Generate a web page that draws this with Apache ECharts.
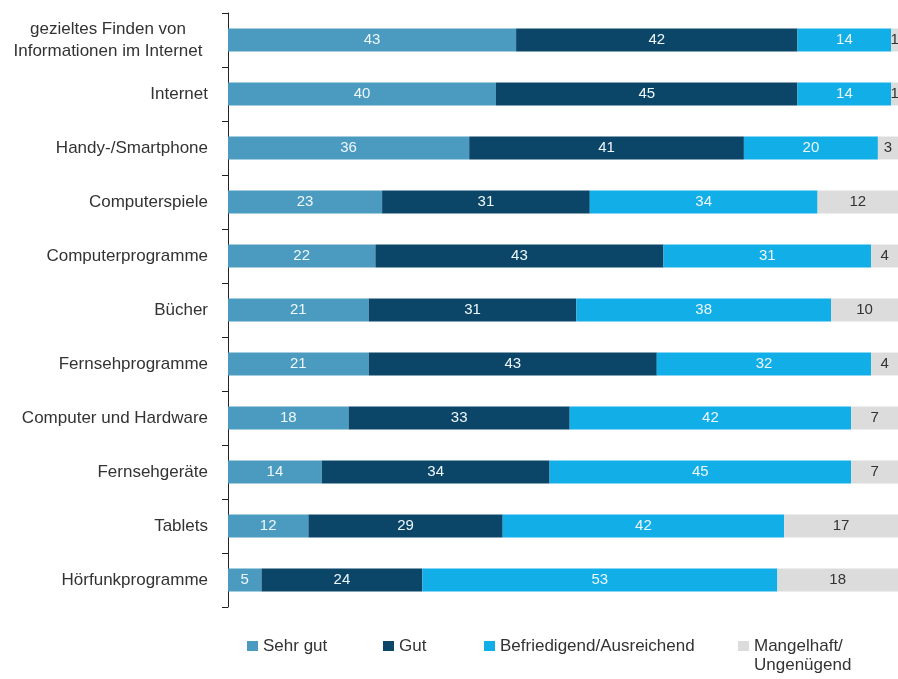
<!DOCTYPE html>
<html>
<head>
<meta charset="utf-8">
<script src="https://cdn.jsdelivr.net/npm/echarts@6/dist/echarts.min.js"></script>
<style>
  html, body { margin: 0; padding: 0; background: #fff; }
  #chart { width: 898px; height: 679px; }
</style>
</head>
<body>
<div id="chart"></div>
<script>
// Media categories, top to bottom
const categories = [
  'gezieltes Finden von\nInformationen im Internet',
  'Internet',
  'Handy-/Smartphone',
  'Computerspiele',
  'Computerprogramme',
  'Bücher',
  'Fernsehprogramme',
  'Computer und Hardware',
  'Fernsehgeräte',
  'Tablets',
  'Hörfunkprogramme'
];

// Shares per rating (percent)
const sehrGut      = [43, 40, 36, 23, 22, 21, 21, 18, 14, 12, 5];
const gut          = [42, 45, 41, 31, 43, 31, 43, 33, 34, 29, 24];
const befriedigend = [14, 14, 20, 34, 31, 38, 32, 42, 45, 42, 53];
const mangelhaft   = [1, 1, 3, 12, 4, 10, 4, 7, 7, 17, 18];

const seriesNames = ['Sehr gut', 'Gut', 'Befriedigend/Ausreichend', 'Mangelhaft/\nUngenügend'];
const colors = ['#4b9bc0', '#0b4669', '#11aee8', '#dcdcdc'];
const labelColors = ['#eef7fb', '#eef7fb', '#eef7fb', '#333333'];
const values = [sehrGut, gut, befriedigend, mangelhaft];

const FONT = '"Liberation Sans", Arial, sans-serif';

const chart = echarts.init(document.getElementById('chart'));

const legendLeft = [247, 383, 484, 738];

// multi-line category names are centred line by line
function categoryLabel(value) {
  if (value.indexOf('\n') < 0) return value;
  return value.split('\n').map(s => '{c|' + s + '}').join('\n');
}

// legend entries show the first line next to the swatch;
// a following line is drawn underneath as a separate text
const lastName = seriesNames[3].split('\n');

chart.setOption({
  animation: false,
  backgroundColor: '#ffffff',
  grid: { left: 228, top: 13, width: 672, height: 594, containLabel: false },
  xAxis: {
    type: 'value', min: 0, max: 100,
    show: false
  },
  yAxis: {
    type: 'category',
    data: categories,
    inverse: true,
    axisLine: { show: true, lineStyle: { color: '#222', width: 1 } },
    axisTick: { show: true, length: 6, lineStyle: { color: '#222' } },
    axisLabel: {
      margin: 20,
      fontFamily: FONT,
      fontSize: 17,
      lineHeight: 22,
      color: '#333',
      align: 'right',
      formatter: categoryLabel,
      rich: {
        c: { fontFamily: FONT, fontSize: 17, lineHeight: 22, color: '#333', width: 200, align: 'center' }
      }
    },
    splitLine: { show: false }
  },
  legend: seriesNames.map((name, i) => ({
    data: [name],
    left: legendLeft[i],
    top: 636,
    icon: 'rect',
    itemWidth: 11,
    itemHeight: 10,
    padding: 0,
    align: 'left',
    selectedMode: false,
    formatter: n => n.split('\n')[0],
    textStyle: { fontFamily: FONT, fontSize: 17, color: '#333', lineHeight: 20 }
  })),
  graphic: [{
    type: 'text',
    left: legendLeft[3] + 16,
    top: 657,
    silent: true,
    style: { text: lastName[1], font: '17px ' + FONT, fill: '#333' }
  }],
  series: seriesNames.map((name, i) => ({
    name: name,
    type: 'bar',
    stack: 'total',
    barWidth: 23,
    data: values[i],
    itemStyle: { color: colors[i] },
    label: {
      show: true,
      position: 'inside',
      fontFamily: FONT,
      fontSize: 15,
      color: labelColors[i]
    }
  }))
});
</script>
</body>
</html>
